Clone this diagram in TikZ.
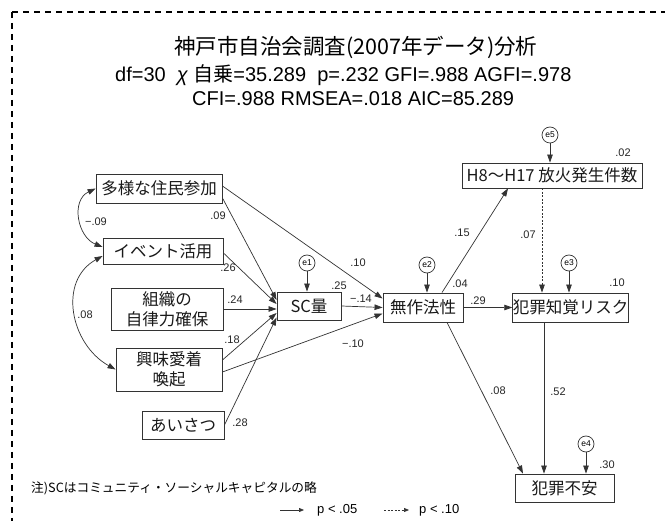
\documentclass[tikz,border=0pt]{standalone}
\usepackage{fontspec}
\setmainfont{Liberation Sans}
\newfontfamily\jp{Noto Sans CJK JP}
\usetikzlibrary{arrows.meta,calc}
\begin{document}
\begin{tikzpicture}[x=1pt,y=-1pt,
  box/.style={draw=black!80,line width=0.9pt,inner sep=0pt,align=center,font=\jp\fontsize{16.5}{20}\selectfont,text=black!90},
  err/.style={draw=black!80,line width=0.7pt,circle,inner sep=0pt,minimum size=16pt,font=\fontsize{8.5}{9}\selectfont},
  coef/.style={font=\fontsize{11}{12}\selectfont,inner sep=0pt,text=black!85},
  pathline/.style={draw=black!80,line width=0.7pt,-{Triangle[length=8pt,width=5.5pt]}},
  dotline/.style={pathline,dash pattern=on 2pt off 1.5pt},
  covline/.style={draw=black!80,line width=0.7pt,{Triangle[length=8pt,width=5.5pt]}-{Triangle[length=8pt,width=5.5pt]}},
  legline/.style={draw=black!80,line width=0.7pt,-{Triangle[length=5pt,width=4pt]}},
  frameline/.style={draw=black,line width=2pt,dash pattern=on 6pt off 5pt},
  titletext/.style={anchor=base west,inner sep=0pt}
]
\useasboundingbox (0,0) rectangle (665,521);
\fill[white] (0,0) rectangle (665,521);
% frame
\draw[frameline] (12,12) -- (665,12);
\draw[frameline] (12,12) -- (12,521);

% title
\node[titletext,font=\jp\fontsize{21.5}{24}\selectfont] (t1) at (174,55) {神戸市自治会調査(2007年データ)分析};
\node[titletext,font=\fontsize{20}{24}\selectfont] (t2) at (115,82) {df=30\ \ {\itshape χ} {\jp 自乗}=35.289\ \ p=.232 GFI=.988 AGFI=.978};
\node[titletext,font=\fontsize{20}{24}\selectfont] (t3) at (192,106) {CFI=.988 RMSEA=.018 AIC=85.289};

% boxes
\node[box,minimum width=126pt,minimum height=29pt] (a1) at (159,188.5) {多様な住民参加};
\node[box,minimum width=120pt,minimum height=26pt] (a2) at (163,251) {イベント活用};
\node[box,minimum width=112pt,minimum height=42pt] (a3) at (167,309) {組織の\\自律力確保};
\node[box,minimum width=106pt,minimum height=43pt] (a4) at (169,369.5) {興味愛着\\喚起};
\node[box,minimum width=82pt,minimum height=28pt] (a5) at (183,425) {あいさつ};
\node[box,minimum width=64pt,minimum height=28pt] (sc) at (309,306) {SC量};
\node[box,minimum width=80pt,minimum height=29pt] (mu) at (423,307.5) {無作法性};
\node[box,minimum width=180pt,minimum height=25pt] (h8) at (552,175.5) {H8〜H17 放火発生件数};
\node[box,minimum width=111pt,minimum height=29pt] (risk) at (570.5,307.5) {犯罪知覚リスク};
\node[box,minimum width=99pt,minimum height=28pt] (anx) at (564.5,488) {犯罪不安};

% error terms
\node[err] (e1) at (307,263) {e1};
\node[err] (e2) at (427,265) {e2};
\node[err] (e3) at (569,263) {e3};
\node[err] (e4) at (586,444) {e4};
\node[err] (e5) at (550,135) {e5};
\draw[pathline] (e1) -- (sc.north -| e1);
\draw[pathline] (e2) -- (mu.north -| e2);
\draw[pathline] (e3) -- (risk.north -| e3);
\draw[pathline] (e4) -- (anx.north -| e4);
\draw[pathline] (e5) -- (h8.north -| e5);

% paths
\draw[pathline] ([yshift=-9.5pt]a1.east) -- ([yshift=6pt]sc.west);
\draw[pathline] ([yshift=2.5pt]a1.east) -- ([yshift=9pt]mu.west);
\draw[pathline] ([yshift=-2pt]a2.east) -- ([yshift=2pt]sc.west);
\draw[pathline] (a3.east) -- ([yshift=-3pt]sc.west);
\draw[pathline] ([yshift=9.5pt]a4.east) -- ([yshift=-7pt]sc.west);
\draw[pathline] ([yshift=-2.5pt]a4.east) -- ([yshift=-6pt]mu.west);
\draw[pathline] (a5.east) -- ([yshift=-11.5pt]sc.west);
\draw[pathline] (sc.east) -- (mu.west);
\draw[pathline] ([xshift=19pt]mu.north) -- ([xshift=-44pt]h8.south);
\draw[pathline] (mu.east) -- (risk.west);
\draw[pathline] ([xshift=24pt]mu.south) -- ([xshift=-41.5pt]anx.north);
\draw[dotline] ([xshift=-10pt]h8.south) -- ([xshift=-28.5pt]risk.north);
\draw[pathline] ([xshift=-26.5pt]risk.south) -- ([xshift=-20.5pt]anx.north);

% covariances
\draw[covline] ([yshift=0pt]a1.west) .. controls +(-25,12) and +(-25,-10) .. ([yshift=4pt]a2.west);
\draw[covline] ([yshift=-5pt]a2.west) .. controls +(-45,25) and +(-45,-25) .. (a4.west);

% coefficients
\node[coef] (c1) at (218,216) {.09};
\node[coef] (c2) at (96,222) {−.09};
\node[coef] (c3) at (228,268) {.26};
\node[coef] (c4) at (235,300) {.24};
\node[coef] (c5) at (85,315) {.08};
\node[coef] (c6) at (232,340) {.18};
\node[coef] (c7) at (240,423) {.28};
\node[coef] (c8) at (358,263) {.10};
\node[coef] (c9) at (339,286) {.25};
\node[coef] (c10) at (361,299) {−.14};
\node[coef] (c11) at (353,344) {−.10};
\node[coef] (c12) at (462,233) {.15};
\node[coef] (c13) at (460,284) {.04};
\node[coef] (c14) at (478,301) {.29};
\node[coef] (c15) at (528,235) {.07};
\node[coef] (c16) at (617,283) {.10};
\node[coef] (c17) at (623,153) {.02};
\node[coef] (c18) at (498,391) {.08};
\node[coef] (c19) at (558,392) {.52};
\node[coef] (c20) at (607,465) {.30};

% legend
\node[anchor=west,inner sep=0pt,font=\jp\fontsize{12.7}{14}\selectfont] (note) at (31,488) {注)SCはコミュニティ・ソーシャルキャピタルの略};
\coordinate (ls1) at (280,510);
\coordinate (le1) at (304,510);
\draw[legline] (ls1) -- (le1);
\node[anchor=west,inner sep=0pt,font=\fontsize{13}{14}\selectfont] (p1) at (317,510) {p < .05};
\coordinate (ls2) at (384,510);
\coordinate (le2) at (409,510);
\draw[legline,dash pattern=on 2pt off 1.5pt] (ls2) -- (le2);
\node[anchor=west,inner sep=0pt,font=\fontsize{13}{14}\selectfont] (p2) at (419,510) {p < .10};
\end{tikzpicture}
\end{document}
